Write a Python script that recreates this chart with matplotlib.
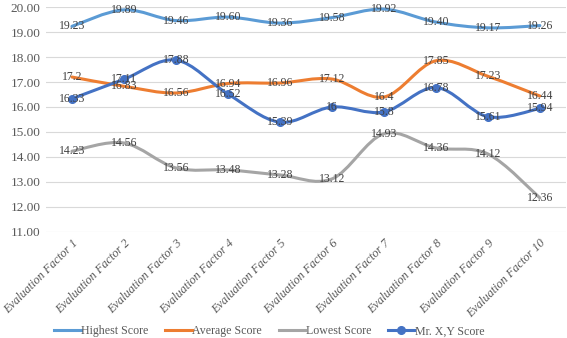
import numpy as np
import matplotlib.pyplot as plt
from matplotlib.path import Path
from matplotlib.patches import PathPatch
from matplotlib.lines import Line2D

plt.rcParams['font.family'] = ['Liberation Serif', 'DejaVu Serif']

factors = ['Evaluation Factor %d' % i for i in range(1, 11)]
highest = [19.23, 19.89, 19.46, 19.60, 19.36, 19.58, 19.92, 19.40, 19.17, 19.26]
average = [17.2, 16.83, 16.56, 16.94, 16.96, 17.12, 16.4, 17.85, 17.23, 16.44]
lowest = [14.23, 14.56, 13.56, 13.48, 13.28, 13.12, 14.93, 14.36, 14.12, 12.36]
mr_xy = [16.33, 17.11, 17.88, 16.52, 15.39, 16, 15.8, 16.78, 15.61, 15.94]

highest_labels = ['%.2f' % v for v in highest]
average_labels = ['17.2', '16.83', '16.56', '16.94', '16.96', '17.12', '16.4', '17.85', '17.23', '16.44']
lowest_labels = ['%.2f' % v for v in lowest]
mr_xy_labels = ['16.33', '17.11', '17.88', '16.52', '15.39', '16', '15.8', '16.78', '15.61', '15.94']


def smooth_path(x, y):
    # bezier segments through every point, Excel-like smoothing
    pts = np.column_stack([x, y]).astype(float)
    n = len(pts)
    verts = [pts[0]]
    codes = [Path.MOVETO]
    for i in range(n - 1):
        p0 = pts[i - 1] if i > 0 else pts[i]
        p1 = pts[i]
        p2 = pts[i + 1]
        p3 = pts[i + 2] if i + 2 < n else pts[i + 1]
        c1 = p1 + (p2 - p0) / 6.0
        c2 = p2 - (p3 - p1) / 6.0
        verts += [c1, c2, p2]
        codes += [Path.CURVE4] * 3
    return Path(verts, codes)


fig = plt.figure(figsize=(5.67, 3.38), dpi=100)
ax = fig.add_axes([0.081, 0.314, 0.917, 0.665])

x = np.arange(len(factors))
series = [
    (highest, highest_labels, '#5B9BD5', 'Highest Score', False),
    (average, average_labels, '#ED7D31', 'Average Score', False),
    (lowest, lowest_labels, '#A5A5A5', 'Lowest Score', False),
    (mr_xy, mr_xy_labels, '#4472C4', 'Mr. X,Y Score', True),
]

handles = []
for vals, labels, color, name, marker in series:
    ax.add_patch(PathPatch(smooth_path(x, vals), fill=False, edgecolor=color,
                           lw=2.2, capstyle='round', joinstyle='round', zorder=3))
    if marker:
        ax.plot(x, vals, 'o', color=color, markersize=5.5, zorder=4)
    for xi, v, lab in zip(x, vals, labels):
        ax.text(xi, v, lab, ha='center', va='center', fontsize=8.5,
                color='#404040', zorder=5)
    handles.append(Line2D([], [], color=color, lw=2.2,
                          marker='o' if marker else None, markersize=5.5, label=name))

ax.set_xlim(-0.5, len(factors) - 0.5)
ax.set_ylim(11, 20)
ax.set_yticks(np.arange(11, 20.01, 1))
ax.set_yticklabels(['%.2f' % v for v in np.arange(11, 20.01, 1)], fontsize=9.5, color='#595959')
ax.set_xticks(x)
ax.set_xticklabels(factors, rotation=45, ha='right', rotation_mode='anchor',
                   fontsize=8.8, style='italic', color='#595959')
ax.tick_params(length=0, pad=4)
ax.grid(axis='y', color='#D9D9D9', lw=0.8)
ax.set_axisbelow(True)
for s in ax.spines.values():
    s.set_visible(False)

fig.legend(handles=handles, loc='center', bbox_to_anchor=(0.475, 0.02), ncol=4,
           frameon=False, fontsize=8.6, handlelength=2.2, handletextpad=0.05,
           columnspacing=1.4, labelcolor='#595959')

fig.savefig('out.png', dpi=100)
